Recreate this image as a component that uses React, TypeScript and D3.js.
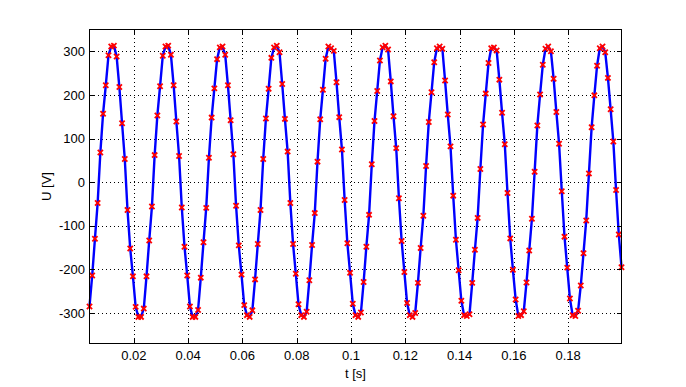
import React from "react";
import * as d3 from "d3";

// Sampling: first sample time and step (s)
const T0 = 0.00365;
const DT = 0.001;

// Sampled voltage values (V), read per cycle
const cycle1 = [-285, -214, -130, -48, 68, 157, 222, 291, 311, 313, 288, 218, 135, 53, -64, -152, -216, -286, -309, -309];
const cycle2 = [-290, -216, -134, -56, 62, 153, 220, 290, 311, 313, 292, 222, 139, 60, -58, -148, -214, -285, -309, -309];
const cycle3 = [-293, -219, -138, -59, 56, 148, 215, 282, 309, 311, 292, 222, 142, 64, -54, -145, -212, -282, -305, -309];
const cycle4 = [-294, -223, -142, -64, 53, 146, 214, 285, 309, 313, 298, 225, 145, 70, -48, -142, -210, -280, -305, -309];
const cycle5 = [-297, -225, -144, -71, 47, 144, 212, 283, 311, 307, 301, 229, 149, 75, -41, -140, -208, -279, -305, -309];
const cycle6 = [-299, -229, -148, -75, 41, 140, 209, 279, 309, 313, 304, 231, 151, 78, -37, -135, -206, -277, -305, -309];
const cycle7 = [-300, -231, -151, -77, 37, 138, 206, 275, 307, 311, 306, 233, 155, 82, -31, -132, -202, -272, -305, -307];
const cycle8 = [-303, -231, -155, -82, 30, 132, 203, 273, 307, 309, 302, 235, 159, 87, -25, -129, -201, -269, -307, -305];
const cycle9 = [-296, -230, -157, -84, 24, 130, 201, 269, 306, 311, 300, 237, 161, 88, -21, -125, -196, -267, -305, -307];
const cycle10 = [-295, -237, -163, -88, 20, 126, 199, 267, 307, 311, 298, 239, 167, 93, -18, -120, -195];

const values = [...cycle1, ...cycle2, ...cycle3, ...cycle4, ...cycle5, ...cycle6, ...cycle7, ...cycle8, ...cycle9, ...cycle10];
const times = values.map((_, i) => T0 + DT * i);

const xTicks = [0.02, 0.04, 0.06, 0.08, 0.1, 0.12, 0.14, 0.16, 0.18];
const yTicks = [-300, -200, -100, 0, 100, 200, 300];
const yDomain = [-370, 350];

const W = 686;
const H = 387;
const M = { left: 89.5, right: 621.5, top: 29.5, bottom: 343.5 };

export default function App() {
  const x = d3.scaleLinear().domain([times[0], times[times.length - 1]]).range([M.left, M.right]);
  const y = d3.scaleLinear().domain(yDomain).range([M.bottom, M.top]);
  const pts: [number, number][] = values.map((v, i) => [times[i], v]);
  const line = d3.line<[number, number]>().x((d) => x(d[0])).y((d) => y(d[1]));
  const font = "'Liberation Sans', Arial, sans-serif";
  const tl = 5;
  const ms = 2.6;
  const px = (v: number) => Math.round(v) + 0.5;
  return (
    <svg width={W} height={H} style={{ position: "absolute", left: 0, top: 0, background: "#fff" }}>
      <rect x={0} y={0} width={W} height={H} fill="#fff" />
      {/* grid */}
      <g shapeRendering="crispEdges">
        {xTicks.map((t) => (
          <line key={"gx" + t} x1={px(x(t))} x2={px(x(t))} y1={M.top} y2={M.bottom} stroke="#000" strokeWidth={1} strokeDasharray="1,3" />
        ))}
        {yTicks.map((t) => (
          <line key={"gy" + t} x1={M.left} x2={M.right} y1={px(y(t))} y2={px(y(t))} stroke="#000" strokeWidth={1} strokeDasharray="1,3" />
        ))}
      </g>
      {/* data */}
      <path d={line(pts) || ""} fill="none" stroke="#0000ff" strokeWidth={2.4} />
      <g stroke="#ff0000" strokeWidth={1.8}>
        {pts.map((d, i) => {
          const cx = x(d[0]);
          const cy = y(d[1]);
          return (
            <g key={"m" + i}>
              <line x1={cx - ms} y1={cy - ms} x2={cx + ms} y2={cy + ms} />
              <line x1={cx - ms} y1={cy + ms} x2={cx + ms} y2={cy - ms} />
            </g>
          );
        })}
      </g>
      {/* box and ticks */}
      <g shapeRendering="crispEdges">
        <rect x={M.left} y={M.top} width={M.right - M.left} height={M.bottom - M.top} fill="none" stroke="#000" strokeWidth={1} />
        {xTicks.map((t) => (
          <g key={"tx" + t}>
            <line x1={px(x(t))} x2={px(x(t))} y1={M.bottom} y2={M.bottom - tl} stroke="#000" />
            <line x1={px(x(t))} x2={px(x(t))} y1={M.top} y2={M.top + tl} stroke="#000" />
          </g>
        ))}
        {yTicks.map((t) => (
          <g key={"ty" + t}>
            <line x1={M.left} x2={M.left + tl} y1={px(y(t))} y2={px(y(t))} stroke="#000" />
            <line x1={M.right} x2={M.right - tl} y1={px(y(t))} y2={px(y(t))} stroke="#000" />
          </g>
        ))}
      </g>
      {xTicks.map((t) => (
        <text key={"lx" + t} x={x(t)} y={360} textAnchor="middle" fontFamily={font} fontSize={13} fill="#000">
          {String(t)}
        </text>
      ))}
      {yTicks.map((t) => (
        <text key={"ly" + t} x={85} y={y(t)} dy="0.36em" textAnchor="end" fontFamily={font} fontSize={13} fill="#000">
          {t < 0 ? "-" + Math.abs(t) : String(t)}
        </text>
      ))}
      <text x={(M.left + M.right) / 2} y={378} textAnchor="middle" fontFamily={font} fontSize={13} fill="#000">
        t [s]
      </text>
      <text transform={`translate(51,${(M.top + M.bottom) / 2}) rotate(-90)`} textAnchor="middle" fontFamily={font} fontSize={13} fill="#000">
        U [V]
      </text>
    </svg>
  );
}
